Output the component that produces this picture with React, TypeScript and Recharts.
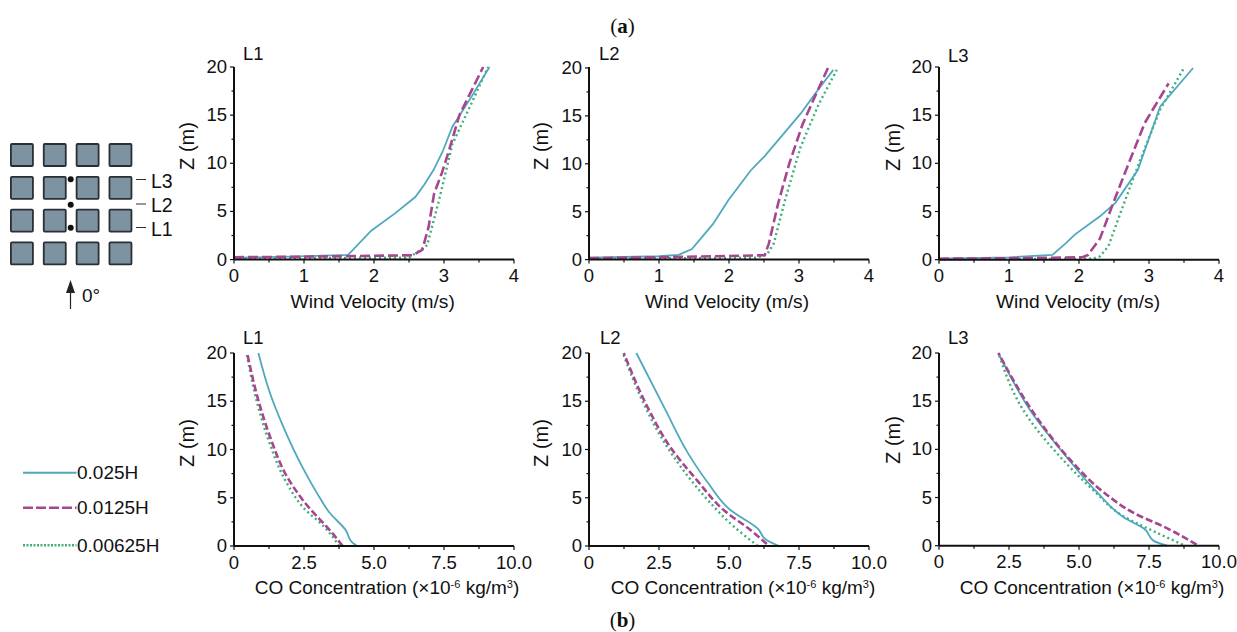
import { LineChart, Line, XAxis, YAxis, ScatterChart, Scatter } from 'recharts';

type Pt = [number, number];

const SERIES_NAMES = ['0.025H', '0.0125H', '0.00625H'];
const SERIES_COLORS = ['#4fa8bd', '#a6468e', '#3fae77'];

const windTicks = [0, 0.5, 1, 1.5, 2, 2.5, 3, 3.5, 4];
const windMajor = [0, 1, 2, 3, 4];
const coTicks = [0, 1.25, 2.5, 3.75, 5, 6.25, 7.5, 8.75, 10];
const coMajor = [0, 2.5, 5, 7.5, 10];
const zTicks = [0, 2.5, 5, 7.5, 10, 12.5, 15, 17.5, 20];
const zMajor = [0, 5, 10, 15, 20];

// wind velocity (m/s), height (m)
const windL1Solid: Pt[] = [[0, 0.2], [0.8, 0.3], [1.63, 0.5], [1.96, 3], [2.3, 4.8], [2.59, 6.5], [2.72, 7.8], [2.85, 9.3], [2.98, 11.2], [3.12, 13.8], [3.4, 17], [3.65, 20]];
const windL1Dashed: Pt[] = [[0, 0.25], [1, 0.3], [2.55, 0.45], [2.69, 1], [2.78, 3.4], [2.86, 6.9], [2.97, 9], [3.07, 11.3], [3.22, 15], [3.56, 20]];
const windL1Dotted: Pt[] = [[0, 0.15], [2.5, 0.2], [2.76, 1.5], [2.93, 6.2], [3.12, 12], [3.41, 16.5], [3.63, 20]];

const windL2Solid: Pt[] = [[0, 0.2], [1, 0.35], [1.28, 0.5], [1.47, 1.1], [1.77, 3.7], [1.99, 6.2], [2.31, 9.3], [2.51, 10.8], [3.02, 15.2], [3.28, 17.8], [3.49, 19.8]];
const windL2Dashed: Pt[] = [[0, 0.15], [1, 0.25], [2.51, 0.45], [2.57, 1.7], [2.7, 5.8], [2.86, 10], [3.05, 14.1], [3.22, 16.9], [3.42, 20.1]];
const windL2Dotted: Pt[] = [[0, 0.1], [2.4, 0.2], [2.55, 0.6], [2.64, 1.7], [2.8, 6.2], [3.02, 11.7], [3.28, 16.2], [3.54, 19.8]];

const windL3Solid: Pt[] = [[0, 0.1], [1, 0.25], [1.62, 0.5], [1.81, 1.7], [1.94, 2.6], [2.3, 4.5], [2.52, 5.9], [2.84, 9.3], [3.0, 12.6], [3.16, 15.9], [3.63, 19.9]];
const windL3Dashed: Pt[] = [[0, 0.1], [1, 0.15], [2.05, 0.25], [2.13, 0.5], [2.3, 2.2], [2.49, 5.9], [2.71, 10], [2.94, 14.2], [3.28, 18.3]];
const windL3Dotted: Pt[] = [[0, 0.05], [2.2, 0.1], [2.3, 0.35], [2.42, 1.4], [2.59, 4.8], [2.84, 9.7], [3.16, 15.6], [3.5, 19.9]];

// CO concentration (x10^-6 kg/m3), height (m)
const coL1Solid: Pt[] = [[4.4, 0], [4.21, 0.4], [4, 1.6], [3.4, 3.5], [2.98, 5.4], [2.44, 8.2], [1.77, 12.3], [1.29, 15.8], [0.87, 20]];
const coL1Dashed: Pt[] = [[3.88, 0], [3.52, 1.3], [2.5, 4.6], [1.89, 7.2], [1.29, 11.3], [0.87, 15.1], [0.47, 20]];
const coL1Dotted: Pt[] = [[3.76, 0], [3.22, 2], [2.5, 3.9], [1.89, 6.5], [1.23, 11], [0.83, 14.8], [0.45, 20]];

const coL2Solid: Pt[] = [[6.8, 0], [6.35, 0.6], [6.03, 1.8], [5.06, 3.7], [4.26, 6.5], [3.54, 9.6], [2.73, 14.1], [1.69, 20]];
const coL2Dashed: Pt[] = [[6.35, 0.2], [5.79, 1.6], [4.82, 3.7], [3.86, 6.8], [2.89, 10.3], [2.09, 14.4], [1.24, 20]];
const coL2Dotted: Pt[] = [[6.03, 0], [5.14, 2.1], [4.26, 4.7], [3.46, 7.5], [2.57, 11.3], [1.93, 14.9], [1.21, 20]];

const coL3Solid: Pt[] = [[8.15, 0], [7.67, 0.5], [7.35, 1.7], [6.62, 2.9], [5.66, 5.5], [4.53, 9.3], [3.41, 13.4], [2.12, 20]];
const coL3Dashed: Pt[] = [[9.2, 0.1], [8.15, 1.8], [6.95, 3.4], [5.9, 5.5], [4.69, 8.9], [3.57, 13], [2.12, 20]];
const coL3Dotted: Pt[] = [[8.71, 0.1], [7.67, 1.5], [6.62, 3], [5.5, 5.8], [4.21, 9.6], [3.09, 13.7], [2.12, 20]];

// street layout: building grid cells and the three sample points (column, row)
const gridCols = [0, 1, 2, 3];
const gridRows = [0, 1, 2, 3];
const samplePoints: Pt[] = [[1.485, 0.74], [1.485, 1.515], [1.485, 2.216]];

const FONT = '"Liberation Sans", Arial, sans-serif';
const SERIF = '"Liberation Serif", "Times New Roman", serif';

// monotoneY needs the rows in rising height
const toRows = (pts: Pt[]) => pts.map(([v, z]) => ({ v, z })).sort((a, b) => a.z - b.z);

function XTick({ x, y, payload, major, fmt }: any) {
  const isMajor = major.includes(payload.value);
  return (
    <g>
      <line x1={x} x2={x} y1={y} y2={y + (isMajor ? 4 : 3)} stroke="#111" strokeWidth={1.2} />
      {isMajor && (
        <text x={x} y={y + 22.6} textAnchor="middle" fontFamily={FONT} fontSize={18.5} fill="#111">
          {fmt(payload.value)}
        </text>
      )}
    </g>
  );
}

function YTick({ x, y, payload }: any) {
  const isMajor = zMajor.includes(payload.value);
  return (
    <g>
      <line x1={x - (isMajor ? 4 : 2.5)} x2={x} y1={y} y2={y} stroke="#111" strokeWidth={1.2} />
      {isMajor && (
        <text x={x - 7} y={y + 6} textAnchor="end" fontFamily={FONT} fontSize={18.5} fill="#111">
          {payload.value}
        </text>
      )}
    </g>
  );
}

const fmtWind = (v: number) => String(v);
const fmtCo = (v: number) => (v === 0 ? '0' : v.toFixed(1));

interface PanelProps {
  left: number;
  top: number;
  height: number;
  series: Pt[][];
  kind: 'wind' | 'co';
}

function Panel({ left, top, height, series, kind }: PanelProps) {
  const isWind = kind === 'wind';
  const order = [2, 0, 1];
  return (
    <div style={{ position: 'absolute', left: left - 60, top: top - 10 }}>
      <LineChart width={365} height={height + 50} margin={{ top: 10, right: 25, bottom: 0, left: 0 }}>
        <XAxis
          xAxisId={0}
          type="number"
          dataKey="v"
          domain={isWind ? [0, 4] : [0, 10]}
          ticks={isWind ? windTicks : coTicks}
          interval={0}
          allowDuplicatedCategory={false}
          height={40}
          tickSize={0}
          tickMargin={0}
          tickLine={false}
          axisLine={{ stroke: '#111', strokeWidth: 2 }}
          tick={(p: any) => <XTick {...p} major={isWind ? windMajor : coMajor} fmt={isWind ? fmtWind : fmtCo} />}
        />
        <YAxis
          yAxisId={0}
          type="number"
          dataKey="z"
          domain={[0, 20]}
          ticks={zTicks}
          interval={0}
          width={60}
          tickSize={0}
          tickMargin={0}
          tickLine={false}
          axisLine={{ stroke: '#111', strokeWidth: 2 }}
          tick={(p: any) => <YTick {...p} />}
        />
        {order.map((i) => (
          <Line
            key={SERIES_NAMES[i]}
            data={toRows(series[i])}
            dataKey="z"
            name={SERIES_NAMES[i]}
            type={isWind ? 'linear' : 'monotoneY'}
            stroke={SERIES_COLORS[i]}
            strokeWidth={i === 0 ? 1.8 : i === 1 ? 2.6 : 2.4}
            strokeDasharray={i === 1 ? (isWind ? '10 4' : '7 3') : i === 2 ? '2 3' : undefined}
            dot={false}
            activeDot={false}
            isAnimationActive={false}
          />
        ))}
      </LineChart>
    </div>
  );
}

function Building(props: any) {
  const { cx, cy } = props;
  return <rect x={cx - 11} y={cy - 11} width={22} height={22} rx={1} fill="#7e93a2" stroke="#2b2f33" strokeWidth={1.8} />;
}

function SampleDot(props: any) {
  return <circle cx={props.cx} cy={props.cy} r={3} fill="#111" />;
}

function Layout() {
  const cells = gridCols.flatMap((c) => gridRows.map((r) => ({ c, r })));
  const points = samplePoints.map(([c, r]) => ({ c, r }));
  return (
    <div style={{ position: 'absolute', left: 0, top: 130 }}>
      <ScatterChart width={190} height={190} margin={{ top: 0, right: 0, bottom: 0, left: 0 }}>
        <XAxis type="number" dataKey="c" domain={[-0.667, 5.117]} hide />
        <YAxis type="number" dataKey="r" domain={[-0.762, 5.03]} reversed hide width={0} />
        <Scatter data={cells} shape={<Building />} isAnimationActive={false} />
        <Scatter data={points} shape={<SampleDot />} isAnimationActive={false} />
      </ScatterChart>
    </div>
  );
}

const panelTexts = [
  { t: 'L1', x: 243, y: 60 }, { t: 'L2', x: 599, y: 59.5 }, { t: 'L3', x: 948, y: 61.5 },
  { t: 'L1', x: 243, y: 344 }, { t: 'L2', x: 600, y: 344 }, { t: 'L3', x: 948, y: 344 },
];
const windTitleX = [372.7, 727, 1078];
const coTitleX = [387, 743, 1092];
const zTitles = [
  { x: 194, y: 146 }, { x: 548, y: 146 }, { x: 900, y: 147 },
  { x: 194, y: 443 }, { x: 548, y: 443 }, { x: 900, y: 440 },
];
const keyLabels = [{ t: 'L3', y: 179.5 }, { t: 'L2', y: 204 }, { t: 'L1', y: 227.5 }];
const legendY = [472.7, 507.7, 545.3];

function Overlay() {
  return (
    <svg width={1237} height={632} style={{ position: 'absolute', left: 0, top: 0, pointerEvents: 'none' }}>
      <g fontFamily={FONT} fill="#111">
        {panelTexts.map((p, i) => (
          <text key={i} x={p.x} y={p.y} fontSize={18.5}>{p.t}</text>
        ))}
        {windTitleX.map((x) => (
          <text key={x} x={x} y={308} textAnchor="middle" fontSize={19.2}>Wind Velocity (m/s)</text>
        ))}
        {coTitleX.map((x) => (
          <text key={x} x={x} y={594} textAnchor="middle" fontSize={19}>
            CO Concentration (×10<tspan fontSize={11} dy={-6}>-6</tspan>
            <tspan dy={6}> kg/m</tspan>
            <tspan fontSize={11} dy={-6}>3</tspan>
            <tspan dy={6}>)</tspan>
          </text>
        ))}
        {zTitles.map((p, i) => (
          <text key={i} x={p.x} y={p.y} textAnchor="middle" fontSize={20} transform={`rotate(-90 ${p.x} ${p.y})`}>Z (m)</text>
        ))}
        {keyLabels.map((k) => (
          <g key={k.t}>
            <line x1={136} x2={146} y1={k.y} y2={k.y} stroke="#333" strokeWidth={1} />
            <text x={151} y={k.y + 8} fontSize={19.5}>{k.t}</text>
          </g>
        ))}
        <line x1={70.5} x2={70.5} y1={309} y2={288} stroke="#222" strokeWidth={1.2} />
        <path d="M70.5 280 L66 293 L75 293 Z" fill="#222" />
        <text x={82} y={302} fontSize={19}>0°</text>
        {SERIES_NAMES.map((name, i) => (
          <g key={name}>
            <line
              x1={23}
              x2={76.5}
              y1={legendY[i]}
              y2={legendY[i]}
              stroke={SERIES_COLORS[i]}
              strokeWidth={i === 0 ? 2 : 2.4}
              strokeDasharray={i === 1 ? '10 3' : i === 2 ? '2 1.5' : undefined}
            />
            <text x={77} y={legendY[i] + 6.5} fontSize={19}>{name}</text>
          </g>
        ))}
      </g>
      <text x={622.5} y={33} textAnchor="middle" fontFamily={SERIF} fontSize={21} fill="#111">
        (<tspan fontWeight="bold">a</tspan>)
      </text>
      <text x={622.5} y={627} textAnchor="middle" fontFamily={SERIF} fontSize={21} fill="#111">
        (<tspan fontWeight="bold">b</tspan>)
      </text>
    </svg>
  );
}

export default function App() {
  return (
    <div style={{ position: 'absolute', left: 0, top: 0, width: 1237, height: 632, background: '#fff', overflow: 'hidden' }}>
      <Layout />
      <Panel left={234.3} top={66.7} height={192.6} kind="wind" series={[windL1Solid, windL1Dashed, windL1Dotted]} />
      <Panel left={588.6} top={66.7} height={192.6} kind="wind" series={[windL2Solid, windL2Dashed, windL2Dotted]} />
      <Panel left={939.4} top={67.3} height={192.7} kind="wind" series={[windL3Solid, windL3Dashed, windL3Dotted]} />
      <Panel left={234.3} top={352.7} height={193} kind="co" series={[coL1Solid, coL1Dashed, coL1Dotted]} />
      <Panel left={588.6} top={352.7} height={193} kind="co" series={[coL2Solid, coL2Dashed, coL2Dotted]} />
      <Panel left={939.4} top={353.3} height={192.7} kind="co" series={[coL3Solid, coL3Dashed, coL3Dotted]} />
      <Overlay />
    </div>
  );
}
